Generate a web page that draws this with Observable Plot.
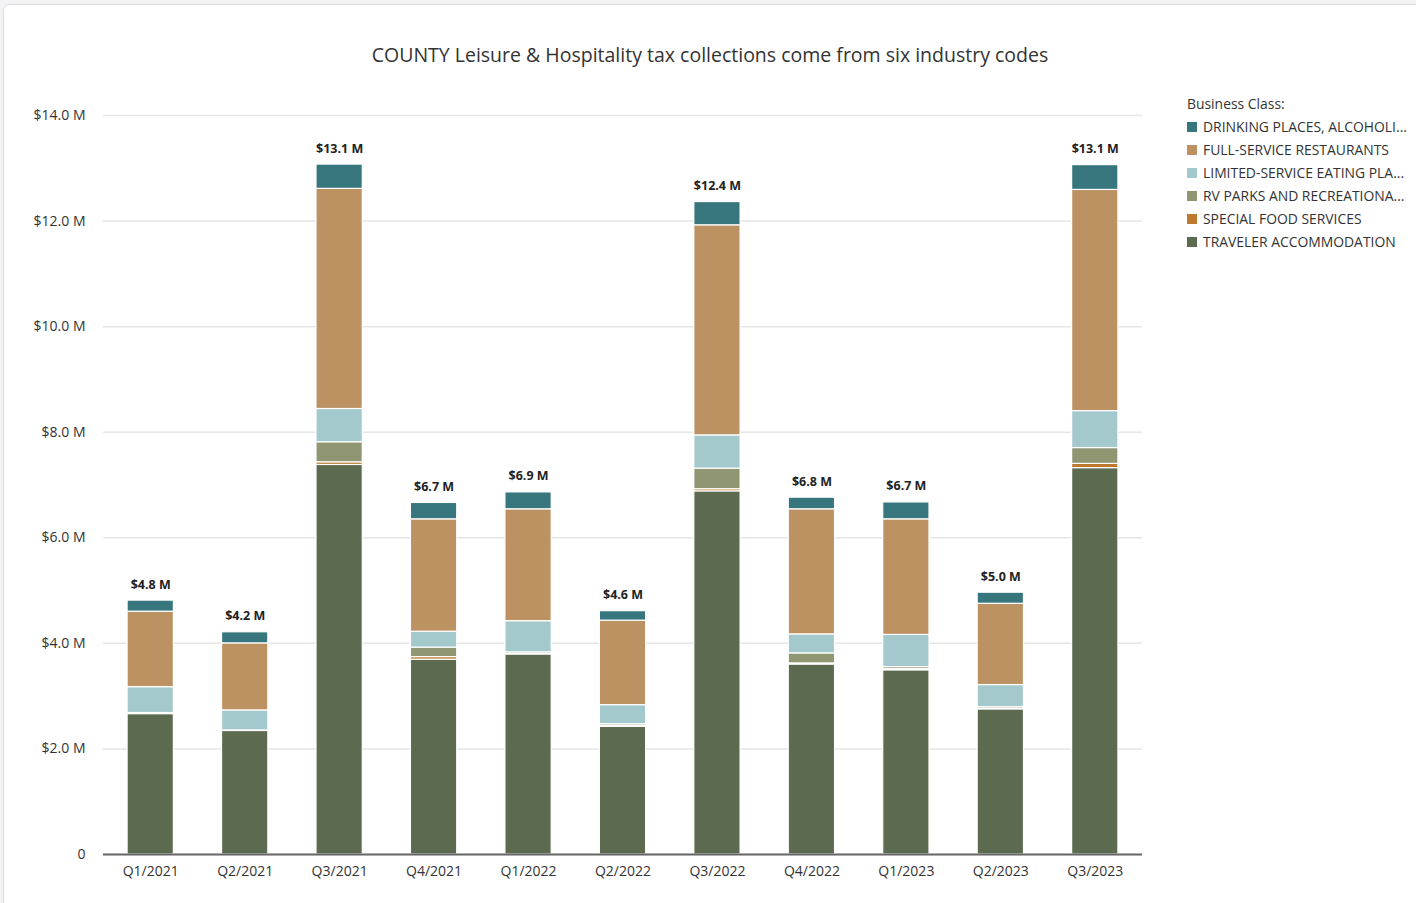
<!DOCTYPE html>
<html><head><meta charset="utf-8">
<script src="https://cdn.jsdelivr.net/npm/d3@7"></script>
<script src="https://cdn.jsdelivr.net/npm/@observablehq/plot@0.6"></script>
<style>
html,body{margin:0;padding:0;background:#f3f3f5;font-family:"Open Sans",sans-serif;}
#card{position:absolute;left:3px;top:4px;width:1440px;height:930px;background:#fff;border:1px solid #dadbe0;border-radius:6px;}
#title{position:absolute;left:0;width:1420px;top:41px;text-align:center;font-size:19.5px;color:#333;}
#chart{position:absolute;left:0;top:90px;}
#legend{position:absolute;left:1187px;top:92px;font-size:13.9px;color:#333;line-height:23px;white-space:nowrap;}
#legend .item{display:flex;align-items:center;}
#legend .sw{width:10px;height:10px;margin-right:6px;display:inline-block;}
</style></head>
<body>
<div id="card"></div>
<div id="title">COUNTY Leisure &amp; Hospitality tax collections come from six industry codes</div>
<div id="chart"></div>
<div id="legend"></div>
<script>
const quarters = ["Q1/2021","Q2/2021","Q3/2021","Q4/2021","Q1/2022","Q2/2022","Q3/2022","Q4/2022","Q1/2023","Q2/2023","Q3/2023"];
const classes = ["DRINKING PLACES, ALCOHOLIC BEVERAGES","FULL-SERVICE RESTAURANTS","LIMITED-SERVICE EATING PLACES","RV PARKS AND RECREATIONAL CAMPS","SPECIAL FOOD SERVICES","TRAVELER ACCOMMODATION"];
const legendLabels = ["DRINKING PLACES, ALCOHOLI...","FULL-SERVICE RESTAURANTS","LIMITED-SERVICE EATING PLA...","RV PARKS AND RECREATIONA...","SPECIAL FOOD SERVICES","TRAVELER ACCOMMODATION"];
const colors = ["#36767c","#bd9262","#a3c9cc","#909672","#bd7a2e","#5c6b50"];
// values in $ millions
const traveler = [2.66, 2.34, 7.38, 3.69, 3.79, 2.42, 6.88, 3.60, 3.49, 2.75, 7.32];
const special  = [0.005,0.005,0.05, 0.05, 0.01, 0.02, 0.04, 0.02, 0.02, 0.01, 0.08];
const rvParks  = [0.015,0.005,0.38, 0.18, 0.03, 0.03, 0.39, 0.19, 0.04, 0.03, 0.30];
const limited  = [0.49, 0.38, 0.63, 0.30, 0.59, 0.36, 0.63, 0.36, 0.61, 0.42, 0.70];
const fullSvc  = [1.43, 1.27, 4.17, 2.13, 2.12, 1.60, 3.98, 2.37, 2.19, 1.54, 4.19];
const drinking = [0.21, 0.21, 0.46, 0.31, 0.32, 0.18, 0.44, 0.22, 0.32, 0.21, 0.47];
const yTicks = [0, 2, 4, 6, 8, 10, 12, 14];

const seriesBottomUp = [
  [classes[5], traveler],
  [classes[4], special],
  [classes[3], rvParks],
  [classes[2], limited],
  [classes[1], fullSvc],
  [classes[0], drinking]
];
const rows = [];
for (const [cls, vals] of seriesBottomUp) {
  quarters.forEach((q, i) => rows.push({quarter: q, cls, value: vals[i]}));
}
const totals = quarters.map((q, i) => ({quarter: q, total: seriesBottomUp.reduce((s, [, v]) => s + v[i], 0)}));

const chart = Plot.plot({
  width: 1180, height: 804,
  marginLeft: 103, marginRight: 38, marginTop: 25, marginBottom: 40,
  style: {fontFamily: "'Open Sans', sans-serif", fontSize: "14px", color: "#333", background: "transparent"},
  x: {domain: quarters, paddingInner: 0.51, paddingOuter: 0.255, round: false, label: null, tickSize: 0, tickPadding: 12},
  y: {domain: [0, 14], ticks: yTicks, tickFormat: d => d === 0 ? "0" : `$${d.toFixed(1)} M`, label: null, tickSize: 0, tickPadding: 18},
  color: {domain: classes, range: colors},
  marks: [
    Plot.gridY(yTicks, {stroke: "#e6e6e6", strokeOpacity: 1, strokeWidth: 1.5}),
    Plot.barY(rows, {x: "quarter", y: "value", fill: "cls", stroke: "white", strokeWidth: 1.2, order: seriesBottomUp.map(d => d[0])}),
    Plot.ruleY([0], {stroke: "#666", strokeWidth: 2}),
    Plot.text(totals, {x: "quarter", y: "total", text: d => `$${d.total.toFixed(1)} M`, dy: -16, fontWeight: "bold", fontSize: 12.5, fill: "#222"})
  ]
});
document.getElementById("chart").appendChild(chart);

const legend = document.getElementById("legend");
legend.innerHTML = `<div>Business Class:</div>` + classes.map((c, i) =>
  `<div class="item"><span class="sw" style="background:${colors[i]}"></span>${legendLabels[i]}</div>`).join("");
</script>
</body></html>
